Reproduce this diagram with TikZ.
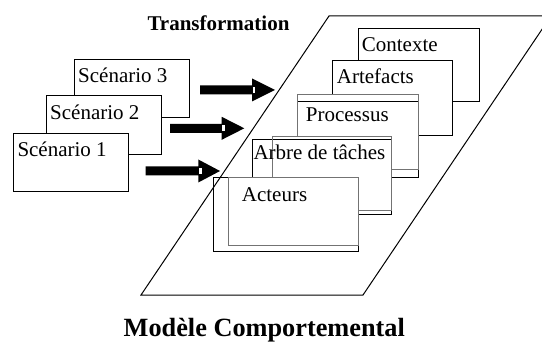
\documentclass[tikz,border=0pt]{standalone}
\usepackage{fontspec}
\setmainfont{Liberation Serif}
\begin{document}
\begin{tikzpicture}[x=1pt,y=-1pt,
  box/.style={draw=black, line width=1pt, fill=white, inner sep=0pt, anchor=north west},
  gbox/.style={draw=black!55, line width=0.8pt, inner sep=0pt, anchor=north west},
  lbl/.style={inner sep=0pt, anchor=base west, font=\fontsize{21}{25}\selectfont},
  ttl/.style={inner sep=0pt, anchor=base west, font=\fontsize{21}{25}\selectfont\bfseries},
  frame/.style={line width=1pt, line join=miter}]
\useasboundingbox (0,0) rectangle (542,345);
\clip (0,0) rectangle (542,345);
\newcommand\blockarr[5]{%
  \coordinate (#1s) at (#2,#5);
  \coordinate (#1t) at (#4,#5);
  \fill[black] (#2,#5-4.5) -- (#3,#5-4.5) -- (#3,#5-11.5) -- (#1t) -- (#3,#5+11.5) -- (#3,#5+4.5) -- (#2,#5+4.5) -- cycle;
  \fill[white] (#3+0.6,#5-3.2) rectangle (#3+3.2,#5+3.2);
}
% scenarios
\node[box, minimum width=114.7pt, minimum height=58.3pt] (s3) at (74.3,59) {};
\node[lbl] (t3) at (78,83) {Scénario 3};
\node[box, minimum width=115pt, minimum height=59pt] (s2) at (45.7,95) {};
\node[lbl] (t2) at (50,119.3) {Scénario 2};
\node[box, minimum width=114.7pt, minimum height=58.6pt] (s1) at (13.3,132.7) {};
\node[lbl] (t1) at (17.3,156.7) {Scénario 1};
% arrows
\blockarr{a1}{200}{252}{275}{90}
\blockarr{a2}{170}{221.7}{244.3}{128.3}
\blockarr{a3}{145.7}{198.3}{220}{171}
% model boxes
\node[box, minimum width=121pt, minimum height=72.4pt] (ctx) at (357.7,28.3) {};
\node[lbl] (tctx) at (361.7,51.7) {Contexte};
\node[box, minimum width=120pt, minimum height=75pt] (art) at (331.7,60) {};
\node[lbl] (tart) at (336.7,84) {Artefacts};
\fill[white] (296.7,94) rectangle (417.7,169.3);
\node[box, minimum width=121pt, minimum height=76pt] (pro) at (296.7,100.7) {};
\node[gbox, minimum width=121pt, minimum height=75.3pt] (prog) at (296.7,94) {};
\node[lbl] (tpro) at (305.7,121.7) {Processus};
\fill[white] (271.7,135.7) rectangle (390.7,210);
\node[box, minimum width=139pt, minimum height=75pt] (arb) at (251.7,139.3) {};
\node[gbox, minimum width=119pt, minimum height=74.3pt] (arbg) at (271.7,135.7) {};
\node[lbl] (tarb) at (253.3,160) {Arbre de tâches};
\node[box, minimum width=144.4pt, minimum height=74.3pt] (act) at (213.3,176.7) {};
\node[gbox, minimum width=129.4pt, minimum height=68.3pt] (actg) at (228.3,176.7) {};
\node[lbl] (tact) at (241.7,201) {Acteurs};
% frame
\draw[frame] (329,16) -- (551,16) -- (363,295) -- (141,295) -- cycle;
% titles
\node[ttl] (ttr) at (147.3,30.7) {Transformation};
\node[ttl, font=\fontsize{26.3}{30}\selectfont\bfseries] (tmc) at (123.5,336) {Modèle Comportemental};
\end{tikzpicture}
\end{document}
